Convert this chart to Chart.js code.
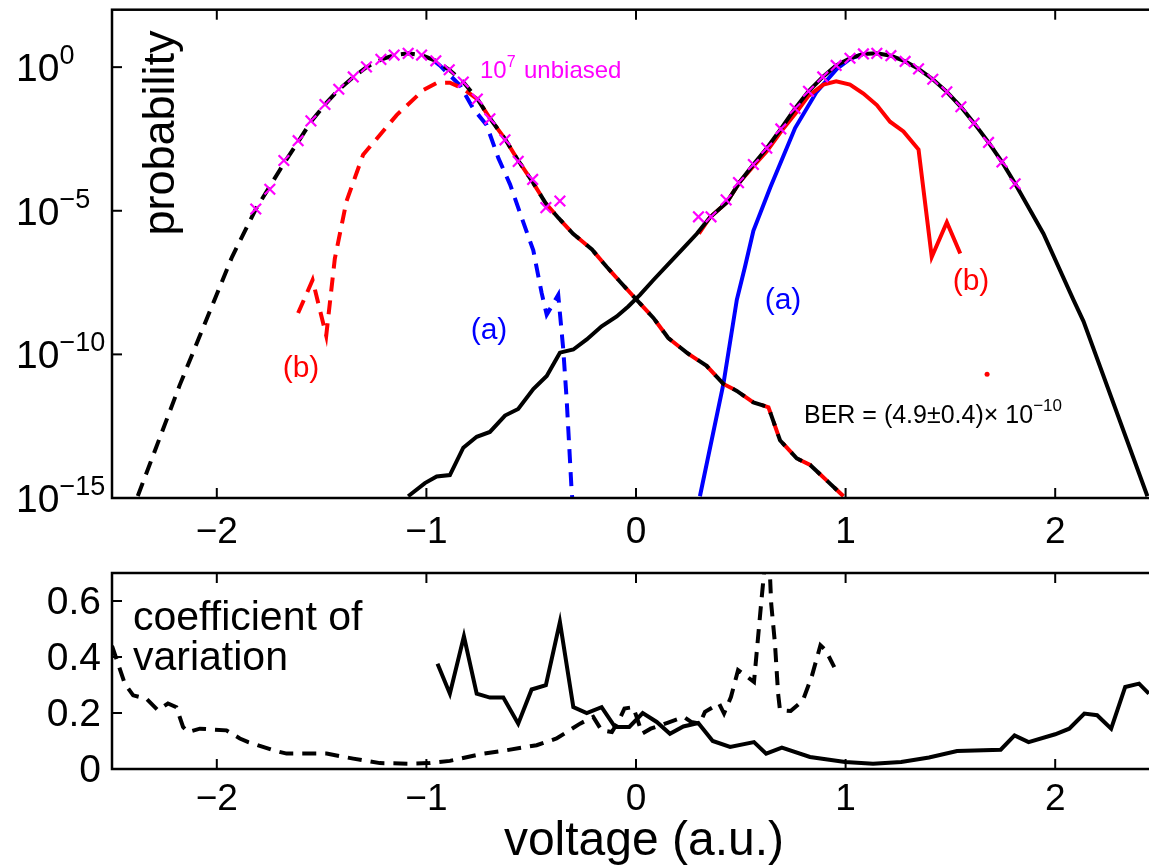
<!DOCTYPE html>
<html>
<head>
<meta charset="utf-8">
<script src="https://cdn.jsdelivr.net/npm/chart.js@4.4.1/dist/chart.umd.min.js"></script>
<style>
  html, body { margin: 0; padding: 0; background: #fff; overflow: hidden; width: 1149px; height: 867px; }
  canvas { position: absolute; left: 0; }
  #topChart { top: 0; }
  #botChart { top: 550px; }
</style>
</head>
<body>
<canvas id="topChart" width="1170" height="550"></canvas>
<canvas id="botChart" width="1170" height="317"></canvas>
<script>
// ---- axis ticks ----
const xTicks = [-2, -1, 0, 1, 2];
const probTickExp = [0, -5, -10, -15];
const cvTicks = [0, 0.2, 0.4, 0.6];

// ---- probability curves (voltage, log10 probability) ----
const blackDashV = [-2.377, -2.177, -1.928, -1.814, -1.747, -1.68, -1.612, -1.551, -1.484, -1.418, -1.349, -1.286, -1.217, -1.154, -1.087, -1.023, -0.955, -0.891, -0.824, -0.757, -0.697, -0.625, -0.562, -0.493, -0.43, -0.37, -0.30, -0.21, -0.14, -0.076, 0.003, 0.083, 0.154, 0.242, 0.337, 0.417, 0.481, 0.56, 0.632, 0.687, 0.767, 0.831, 0.99];
const blackDashLog = [-14.93, -11.07, -6.62, -4.94, -4.15, -3.35, -2.6, -1.9, -1.3, -0.78, -0.35, 0.0, 0.26, 0.42, 0.48, 0.42, 0.22, -0.09, -0.52, -1.11, -1.78, -2.5, -3.25, -4.0, -4.75, -5.25, -5.8, -6.35, -6.95, -7.47, -8.1, -8.73, -9.43, -9.94, -10.4, -11.03, -11.27, -11.67, -11.84, -12.99, -13.62, -13.85, -14.94];

const blackSolidV = [-1.087, -1.007, -0.951, -0.888, -0.824, -0.76, -0.697, -0.625, -0.562, -0.49, -0.426, -0.363, -0.299, -0.235, -0.164, -0.092, -0.037, 0.019, 0.083, 0.162, 0.226, 0.29, 0.353, 0.433, 0.496, 0.56, 0.624, 0.691, 0.759, 0.823, 0.891, 0.955, 1.021, 1.085, 1.149, 1.216, 1.284, 1.348, 1.416, 1.483, 1.55, 1.613, 1.682, 1.746, 1.809, 1.944, 2.087, 2.135, 2.44];
const blackSolidLog = [-14.94, -14.48, -14.25, -14.2, -13.25, -12.87, -12.7, -12.13, -11.9, -11.21, -10.75, -9.94, -9.83, -9.48, -9.02, -8.68, -8.33, -7.93, -7.41, -6.8, -6.3, -5.8, -5.23, -4.71, -3.99, -3.39, -2.82, -2.15, -1.44, -0.84, -0.34, 0.06, 0.31, 0.46, 0.48, 0.4, 0.2, -0.06, -0.42, -0.86, -1.38, -1.95, -2.62, -3.3, -4.06, -5.8, -8.1, -8.85, -14.94];

const blueDashV = [-0.96, -0.936, -0.84, -0.777, -0.713, -0.657, -0.601, -0.546, -0.49, -0.45, -0.426, -0.371, -0.347, -0.331, -0.318, -0.307, -0.298];
const blueDashLog = [0.2, 0.06, -0.63, -1.44, -2.01, -3.16, -4.08, -5.23, -6.38, -7.87, -8.62, -7.93, -9.83, -11.55, -13.28, -14.77, -15.5];

const blueSolidV = [0.305, 0.417, 0.481, 0.52, 0.56, 0.64, 0.759, 0.862, 0.958, 1.021, 1.085];
const blueSolidLog = [-14.94, -11.03, -8.1, -6.95, -5.7, -4.2, -2.12, -0.86, -0.06, 0.29, 0.46];

const redDashV = [-1.612, -1.543, -1.478, -1.437, -1.381, -1.302, -1.222, -1.142, -1.015, -0.951, -0.888, -0.824, -0.757, -0.697, -0.625, -0.562, -0.493, -0.43, -0.37, -0.30, -0.21, -0.14, -0.076, 0.003, 0.083, 0.154, 0.242, 0.337, 0.417, 0.481, 0.56, 0.632, 0.687, 0.767, 0.831, 0.99];
const redDashLog = [-8.56, -7.41, -9.35, -6.67, -4.66, -3.05, -2.36, -1.67, -0.8, -0.55, -0.54, -0.75, -1.11, -1.78, -2.5, -3.25, -4.0, -4.75, -5.25, -5.8, -6.35, -6.95, -7.47, -8.1, -8.73, -9.43, -9.94, -10.4, -11.03, -11.27, -11.67, -11.84, -12.99, -13.62, -13.85, -14.94];

const redSolidV = [0.3, 0.353, 0.433, 0.496, 0.56, 0.624, 0.691, 0.767, 0.823, 0.894, 0.955, 1.021, 1.085, 1.149, 1.212, 1.276, 1.348, 1.411, 1.483, 1.547];
const redSolidLog = [-5.8, -5.23, -4.71, -3.99, -3.45, -2.93, -2.25, -1.55, -1.0, -0.61, -0.49, -0.61, -0.92, -1.32, -1.9, -2.24, -2.87, -6.61, -5.4, -6.49];

const redDotV = [1.675];
const redDotLog = [-10.69];

// 10^7 unbiased samples
const markV = [-1.814, -1.747, -1.68, -1.612, -1.551, -1.484, -1.418, -1.349, -1.286, -1.217, -1.154, -1.087, -1.023, -0.955, -0.891, -0.824, -0.757, -0.697, -0.625, -0.562, -0.493, -0.43, -0.363,
  0.298, 0.358, 0.43, 0.489, 0.56, 0.624, 0.691, 0.759, 0.823, 0.891, 0.955, 1.021, 1.085, 1.149, 1.216, 1.284, 1.348, 1.416, 1.483, 1.55, 1.613, 1.682, 1.746, 1.809];
const markLog = [-4.94, -4.25, -3.25, -2.56, -1.87, -1.3, -0.77, -0.34, 0.01, 0.27, 0.42, 0.48, 0.42, 0.22, -0.09, -0.52, -1.11, -1.8, -2.53, -3.28, -3.91, -4.89, -4.66,
  -5.21, -5.21, -4.62, -4.02, -3.39, -2.82, -2.15, -1.44, -0.84, -0.34, 0.06, 0.31, 0.46, 0.48, 0.4, 0.2, -0.06, -0.42, -0.86, -1.38, -1.95, -2.62, -3.3, -4.06];

// ---- coefficient of variation ----
const cvDashV = [-2.5, -2.439, -2.399, -2.336, -2.281, -2.233, -2.193, -2.161, -2.137, -2.081, -1.954, -1.89, -1.85, -1.731, -1.667, -1.476, -1.349, -1.222, -1.079, -0.991, -0.888, -0.729, -0.617, -0.474, -0.379, -0.267, -0.204, -0.164, -0.115, -0.081, -0.055, -0.014, 0.003, 0.029, 0.07, 0.15, 0.229, 0.263, 0.304, 0.329, 0.396, 0.42, 0.453, 0.487, 0.52, 0.563, 0.597, 0.63, 0.645, 0.663, 0.678, 0.687, 0.738, 0.796, 0.838, 0.88, 0.905, 0.946];
const cvDashVal = [0.44, 0.305, 0.263, 0.251, 0.21, 0.234, 0.221, 0.15, 0.132, 0.144, 0.138, 0.109, 0.096, 0.067, 0.055, 0.055, 0.037, 0.021, 0.019, 0.021, 0.029, 0.055, 0.067, 0.085, 0.109, 0.162, 0.186, 0.138, 0.132, 0.174, 0.216, 0.221, 0.186, 0.126, 0.144, 0.165, 0.186, 0.168, 0.162, 0.204, 0.234, 0.198, 0.257, 0.353, 0.335, 0.311, 0.591, 0.85, 0.591, 0.448, 0.269, 0.21, 0.207, 0.245, 0.329, 0.442, 0.424, 0.364];

const cvSolidV = [-0.947, -0.888, -0.821, -0.76, -0.697, -0.633, -0.562, -0.498, -0.43, -0.363, -0.299, -0.235, -0.164, -0.1, -0.032, 0.032, 0.099, 0.162, 0.226, 0.297, 0.366, 0.449, 0.563, 0.621, 0.696, 0.83, 0.998, 1.131, 1.265, 1.398, 1.532, 1.74, 1.806, 1.873, 2.0, 2.067, 2.139, 2.2, 2.267, 2.334, 2.4, 2.447];
const cvSolidVal = [0.376, 0.269, 0.474, 0.269, 0.255, 0.255, 0.162, 0.284, 0.299, 0.525, 0.221, 0.2, 0.221, 0.15, 0.15, 0.2, 0.168, 0.126, 0.152, 0.164, 0.1, 0.079, 0.096, 0.055, 0.076, 0.043, 0.025, 0.019, 0.025, 0.041, 0.064, 0.069, 0.12, 0.096, 0.124, 0.144, 0.198, 0.192, 0.144, 0.293, 0.305, 0.269];

const FONT = '"Liberation Sans", Arial, Helvetica, sans-serif';
const BLUE = "#0000ff", RED = "#ff0000", MAGENTA = "#ff00ff";

function pts(xs, ys, isLog) {
  return xs.map((x, i) => ({ x: x, y: isLog ? Math.pow(10, ys[i]) : ys[i] }));
}

function lineSet(data, color, dashed, order) {
  return {
    data: data, borderColor: color, backgroundColor: color, borderWidth: 4,
    borderDash: dashed ? [14, 9] : [], pointRadius: 0, tension: 0, fill: false, order: order
  };
}

function txt(ctx, s, x, y, size, color, align) {
  ctx.font = size + "px " + FONT;
  ctx.fillStyle = color || "#000";
  ctx.textAlign = align || "left";
  ctx.textBaseline = "alphabetic";
  ctx.fillText(s, x, y);
}

// base with a raised exponent, starting at x
function powTxt(ctx, base, exp, x, y, size, supSize, rise, color) {
  ctx.font = size + "px " + FONT;
  const wb = ctx.measureText(base).width;
  txt(ctx, base, x, y, size, color);
  txt(ctx, exp, x + wb, y - rise, supSize, color);
}

function line(ctx, x1, y1, x2, y2) {
  ctx.beginPath();
  ctx.moveTo(x1, y1);
  ctx.lineTo(x2, y2);
  ctx.stroke();
}

function drawFrame(chart, yValues, yLabel, xLabelBase) {
  const { ctx, chartArea: a, scales } = chart;
  ctx.save();
  ctx.strokeStyle = "#000";
  ctx.lineWidth = 2.5;
  ctx.strokeRect(a.left, a.top, a.right - a.left, a.bottom - a.top);
  ctx.lineWidth = 2;
  xTicks.forEach(v => {
    const px = scales.x.getPixelForValue(v);
    line(ctx, px, a.bottom, px, a.bottom - 10);
    line(ctx, px, a.top, px, a.top + 10);
    txt(ctx, v < 0 ? "\u2212" + Math.abs(v) : String(v), px, xLabelBase, 37, "#000", "center");
  });
  yValues.forEach(v => {
    const py = scales.y.getPixelForValue(v);
    line(ctx, a.left, py, a.left + 10, py);
    line(ctx, a.right, py, a.right - 10, py);
    yLabel(ctx, v, py);
  });
  ctx.restore();
}

const xScale = {
  type: "linear", min: -2.5, max: 2.5, display: false,
  afterBuildTicks: s => { s.ticks = xTicks.map(v => ({ value: v })); }
};

// ---------------- top chart ----------------
const topDeco = {
  id: "topDeco",
  afterDraw(chart) {
    const ctx = chart.ctx;
    drawFrame(chart, probTickExp.map(e => Math.pow(10, e)), (c, v, py) => {
      const e = Math.round(Math.log10(v));
      powTxt(c, "10", e < 0 ? "\u2212" + Math.abs(e) : String(e), 16, py + 14, 39, 27, 17, "#000");
    }, 543);
    ctx.save();
    ctx.translate(174, 133);
    ctx.rotate(-Math.PI / 2);
    txt(ctx, "probability", 0, 0, 45, "#000", "center");
    ctx.restore();
    powTxt(ctx, "10", "7", 480, 78, 24, 16, 11, MAGENTA);
    txt(ctx, "unbiased", 524, 78, 24, MAGENTA);
    txt(ctx, "(a)", 489, 339, 30, BLUE, "center");
    txt(ctx, "(a)", 783, 309, 30, BLUE, "center");
    txt(ctx, "(b)", 301, 377, 30, RED, "center");
    txt(ctx, "(b)", 971, 290, 30, RED, "center");
    powTxt(ctx, "BER = (4.9\u00b10.4)\u00d7 10", "\u221210", 804, 423, 25, 17, 12, "#000");
  }
};

new Chart(document.getElementById("topChart"), {
  type: "line",
  data: {
    datasets: [
      {
        data: pts(markV, markLog, true), showLine: false, pointStyle: "crossRot",
        pointRadius: 7.5, pointBorderWidth: 2.2, borderColor: MAGENTA, backgroundColor: MAGENTA, order: 0
      },
      lineSet(pts(blackDashV, blackDashLog, true), "#000", true, 1),
      lineSet(pts(blackSolidV, blackSolidLog, true), "#000", false, 2),
      lineSet(pts(redDashV, redDashLog, true), RED, true, 3),
      lineSet(pts(redSolidV, redSolidLog, true), RED, false, 4),
      {
        data: pts(redDotV, redDotLog, true), showLine: false, pointRadius: 2.5,
        borderWidth: 0, backgroundColor: RED, borderColor: RED, order: 4
      },
      lineSet(pts(blueDashV, blueDashLog, true), BLUE, true, 5),
      lineSet(pts(blueSolidV, blueSolidLog, true), BLUE, false, 6)
    ]
  },
  options: {
    responsive: false, animation: false, events: [],
    layout: { padding: { left: 112, right: 10, top: 7, bottom: 52 } },
    plugins: { legend: { display: false }, tooltip: { enabled: false } },
    scales: {
      x: xScale,
      y: { type: "logarithmic", min: 1e-15, max: 1e2, display: false }
    }
  },
  plugins: [topDeco]
});

// ---------------- bottom chart ----------------
const botDeco = {
  id: "botDeco",
  afterDraw(chart) {
    const ctx = chart.ctx;
    drawFrame(chart, cvTicks, (c, v, py) => {
      txt(c, v === 0 ? "0" : v.toFixed(1), 101, py + 13, 39, "#000", "right");
    }, 260);
    txt(ctx, "coefficient of", 133, 80, 41, "#000");
    txt(ctx, "variation", 133, 120, 41, "#000");
    txt(ctx, "voltage (a.u.)", 644, 305, 48, "#000", "center");
  }
};

new Chart(document.getElementById("botChart"), {
  type: "line",
  data: {
    datasets: [
      lineSet(pts(cvSolidV, cvSolidVal, false), "#000", false, 0),
      lineSet(pts(cvDashV, cvDashVal, false), "#000", true, 1)
    ]
  },
  options: {
    responsive: false, animation: false, events: [],
    layout: { padding: { left: 112, right: 10, top: 23, bottom: 98 } },
    plugins: { legend: { display: false }, tooltip: { enabled: false } },
    scales: {
      x: xScale,
      y: { type: "linear", min: 0, max: 0.7, display: false }
    }
  },
  plugins: [botDeco]
});
</script>
</body>
</html>
